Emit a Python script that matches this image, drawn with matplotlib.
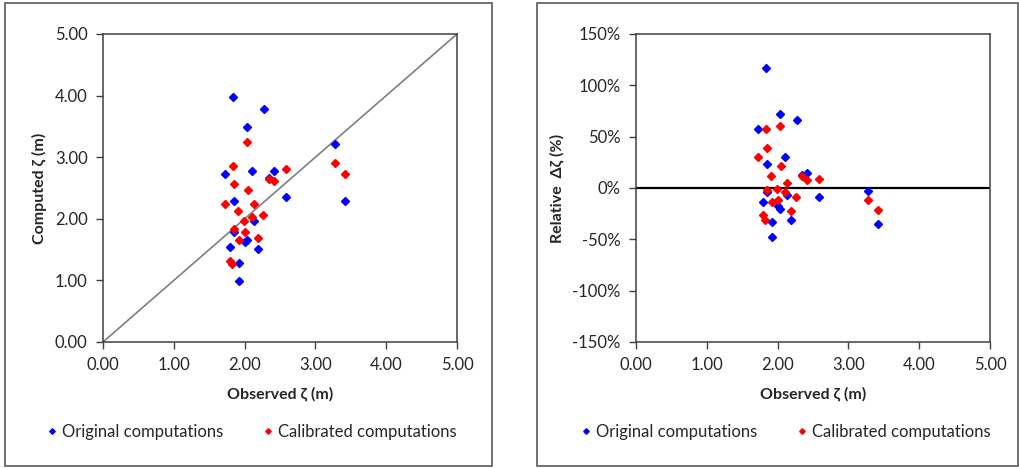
import numpy as np
import matplotlib.pyplot as plt
from matplotlib.patches import Rectangle
from matplotlib.ticker import FuncFormatter

# Données
obs_orig = [1.83, 2.27, 2.03, 1.73, 2.11, 2.41, 2.35, 2.59, 1.85, 2.13,
            1.85, 2.04, 2.00, 1.80, 2.19, 1.92, 1.92, 3.28, 3.42]
comp_orig = [3.97, 3.78, 3.49, 2.72, 2.77, 2.77, 2.66, 2.35, 2.29, 1.96,
             1.79, 1.65, 1.62, 1.54, 1.51, 1.29, 0.99, 3.22, 2.29]
rel_orig = [117, 66, 72, 57, 30, 15, 13, -9, 23, -7,
            -4, -20, -18, -14, -31, -33, -48, -3, -35]

obs_cal = [2.03, 1.83, 2.59, 2.35, 2.41, 1.85, 2.05, 1.73, 2.13, 1.91,
           2.11, 2.26, 1.99, 1.85, 2.01, 2.19, 1.92, 1.79, 1.82, 3.28, 3.42]
comp_cal = [3.24, 2.86, 2.81, 2.64, 2.61, 2.56, 2.47, 2.24, 2.24, 2.13,
            2.03, 2.06, 1.96, 1.83, 1.78, 1.69, 1.65, 1.32, 1.27, 2.90, 2.72]
rel_cal = [60, 57, 9, 12, 8, 39, 21, 30, 5, 12,
           -4, -9, -1, -1.5, -12, -22, -14, -26, -31, -12, -21]

x_ticks = [0, 1, 2, 3, 4, 5]
y_ticks_left = [0, 1, 2, 3, 4, 5]
y_ticks_right = [-150, -100, -50, 0, 50, 100, 150]

labels = ["Original computations", "Calibrated computations"]

plt.rcParams['font.family'] = ['Lato', 'DejaVu Sans']
W, H = 1020, 468
txt = '#262626'

fig = plt.figure(figsize=(W / 100, H / 100), dpi=100)


def px_rect(x0, y0, x1, y1):
    return [x0 / W, 1 - y1 / H, (x1 - x0) / W, (y1 - y0) / H]


# Cadres extérieurs
for (x0, y0, x1, y1) in [(5, 3, 492, 466), (537, 3, 1018, 466)]:
    fig.patches.append(Rectangle((x0 / W, 1 - y1 / H), (x1 - x0) / W, (y1 - y0) / H,
                                 transform=fig.transFigure, fill=False,
                                 edgecolor='#595959', linewidth=1.2))

ax1 = fig.add_axes(px_rect(103, 34, 457, 342))
ax2 = fig.add_axes(px_rect(636, 34, 990, 342))

# Graphique de gauche
ax1.plot([0, 5], [0, 5], color='#7f7f7f', linewidth=1.2, zorder=1)
ax1.plot(obs_orig, comp_orig, 'D', color='#0000ff', markersize=4, label=labels[0], zorder=3)
ax1.plot(obs_cal, comp_cal, 'D', color='#ff0000', markersize=4, label=labels[1], zorder=3)
ax1.set_xlim(0, 5)
ax1.set_ylim(0, 5)
ax1.set_yticks(y_ticks_left)
ax1.yaxis.set_major_formatter(FuncFormatter(lambda v, p: f"{v:.2f}"))
ax1.set_ylabel("Computed ζ (m)", fontweight='bold', fontsize=11.5, color=txt, labelpad=6)

# Graphique de droite
ax2.axhline(0, color='black', linewidth=1.6, zorder=1)
ax2.plot(obs_orig, rel_orig, 'D', color='#0000ff', markersize=4, label=labels[0], zorder=3)
ax2.plot(obs_cal, rel_cal, 'D', color='#ff0000', markersize=4, label=labels[1], zorder=3)
ax2.set_xlim(0, 5)
ax2.set_ylim(-150, 150)
ax2.set_yticks(y_ticks_right)
ax2.yaxis.set_major_formatter(FuncFormatter(lambda v, p: f"{v:.0f}%"))
ax2.set_ylabel("Relative  Δζ (%)", fontweight='bold', fontsize=11.5, color=txt, labelpad=6)

for ax, cx in [(ax1, 250), (ax2, 784)]:
    ax.set_xticks(x_ticks)
    ax.xaxis.set_major_formatter(FuncFormatter(lambda v, p: f"{v:.2f}"))
    ax.set_xlabel("Observed ζ (m)", fontweight='bold', fontsize=11.5, color=txt, labelpad=10)
    ax.tick_params(direction='out', length=5, width=1, color='#404040',
                   labelsize=12, labelcolor=txt, pad=6)
    for s in ax.spines.values():
        s.set_color('#404040')
        s.set_linewidth(1.1)
    ax.legend(loc='center', bbox_to_anchor=(cx / W, 1 - 432 / H),
              bbox_transform=fig.transFigure, ncol=2, frameon=False,
              fontsize=12, handletextpad=0.1, columnspacing=2.2,
              handlelength=1.0, markerscale=0.7, labelcolor=txt)

plt.savefig("out.png", dpi=100)
plt.close()
